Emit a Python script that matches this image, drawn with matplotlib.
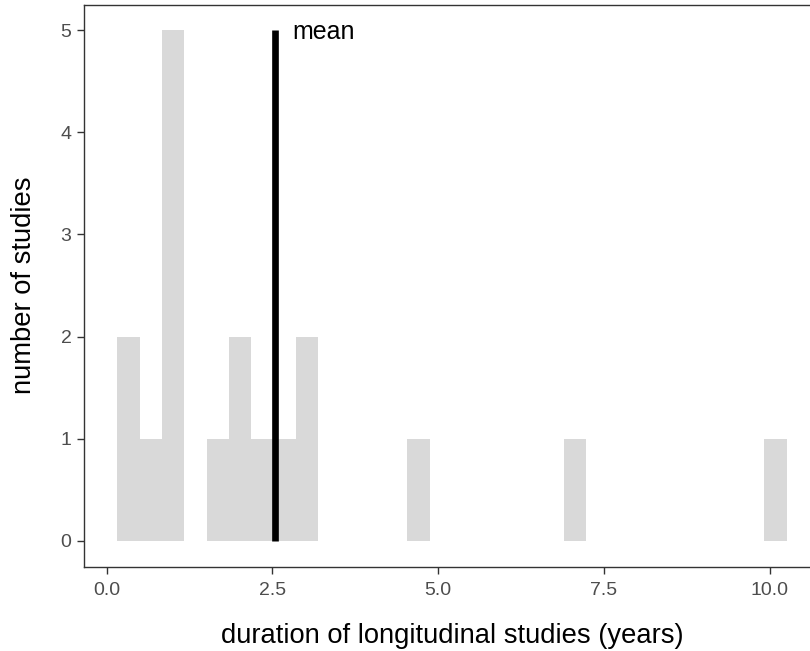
import numpy as np
import matplotlib
matplotlib.use("Agg")
import matplotlib.pyplot as plt

# study durations in years (18 studies)
durations = [0.333, 0.42, 0.75, 1.0, 1.0, 1.0, 1.0, 1.1, 1.75, 2.0, 2.0,
             2.33, 2.75, 3.1, 3.1, 4.8, 7.1, 10.083]
n_bins = 30
x_ticks = [0.0, 2.5, 5.0, 7.5, 10.0]
y_ticks = [0, 1, 2, 3, 4, 5]

plt.rcParams['font.family'] = ['Liberation Sans', 'DejaVu Sans']

data = np.array(durations)
# ggplot-style bins: first/last bin centred on min/max
w = (data.max() - data.min()) / (n_bins - 1)
edges = data.min() - w / 2 + w * np.arange(n_bins + 1)
mean = data.mean()

fig = plt.figure(figsize=(8.1, 6.51), dpi=100)
ax = fig.add_axes([84 / 810, 1 - 566.5 / 651, 736 / 810, 562 / 651])

counts, _, _ = ax.hist(data, bins=edges, histtype='stepfilled',
                       color='#d9d9d9', linewidth=0)
top = counts.max()
ax.vlines(mean, 0, top, color='black', linewidth=4.8, capstyle='butt')
ax.text(mean + 0.27, top - 0.02, 'mean', fontsize=18, ha='left', va='center')

span = edges[-1] - edges[0]
ax.set_xlim(edges[0] - 0.05 * span, edges[-1] + 0.05 * span)
ax.set_ylim(-0.05 * top, top * 1.05)
ax.set_xticks(x_ticks)
ax.set_xticklabels([f'{t:.1f}' for t in x_ticks])
ax.set_yticks(y_ticks)

for s in ax.spines.values():
    s.set_color('#333333')
    s.set_linewidth(1.0)
ax.tick_params(length=5, width=1.0, color='#333333', labelcolor='#4d4d4d',
               labelsize=14)
ax.tick_params(axis='x', pad=6.5)
ax.tick_params(axis='y', pad=4)

ax.set_xlabel('duration of longitudinal studies (years)', fontsize=19.7, labelpad=17)
ax.set_ylabel('number of studies', fontsize=19.7, labelpad=17)

plt.savefig('out.png', dpi=100)
